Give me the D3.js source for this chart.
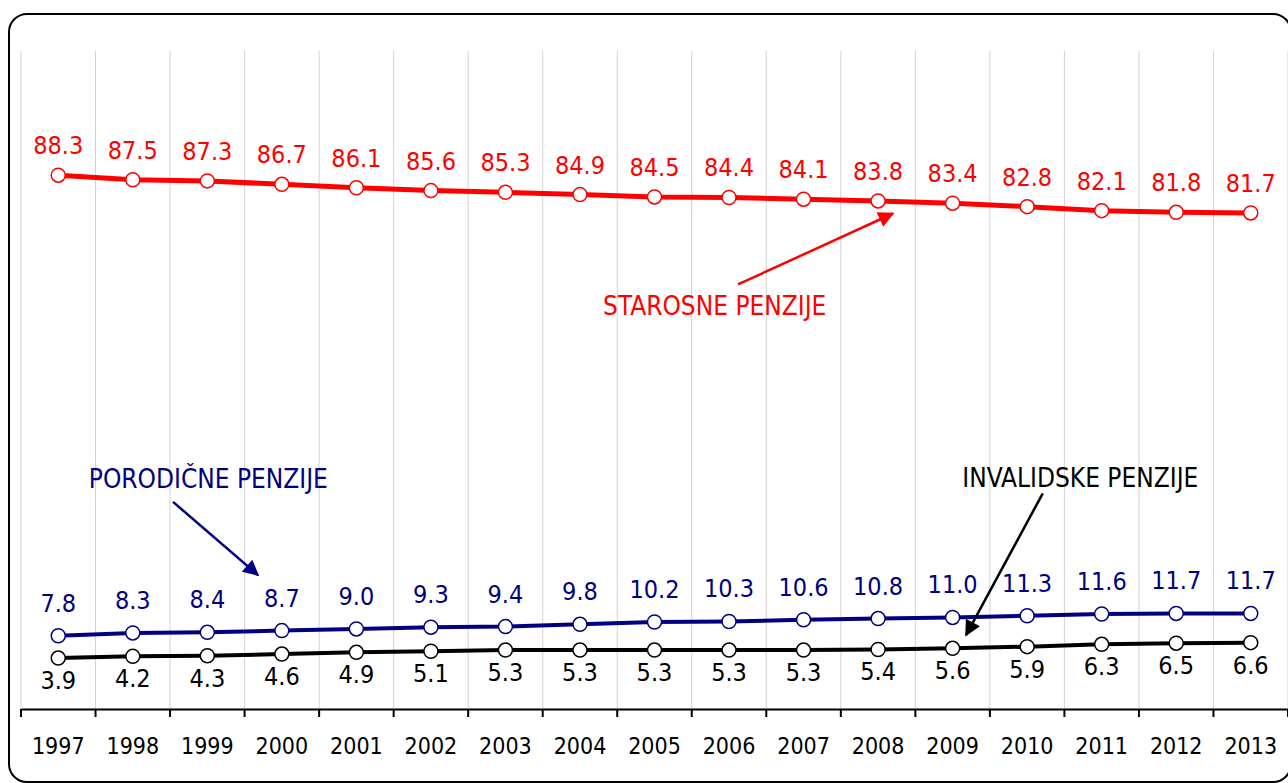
<!DOCTYPE html>
<html lang="hr">
<head>
    <meta charset="UTF-8">
    <title>Struktura penzija 1997-2013</title>
    <script src="https://d3js.org/d3.v7.min.js"></script>
    <style>
        body { margin: 0; background: #fff; }
        text { font-family: "DejaVu Sans Condensed", "DejaVu Sans", sans-serif; }
        .grid line { stroke: #d2d2d2; stroke-width: 1; }
    </style>
</head>
<body>
    <svg width="1288" height="783"></svg>

    <script>
        // Data (share of pensions, %)
        const years = ["1997", "1998", "1999", "2000", "2001", "2002", "2003", "2004", "2005",
            "2006", "2007", "2008", "2009", "2010", "2011", "2012", "2013"];
        const starosne = [88.3, 87.5, 87.3, 86.7, 86.1, 85.6, 85.3, 84.9, 84.5, 84.4, 84.1, 83.8, 83.4, 82.8, 82.1, 81.8, 81.7];
        const porodicne = [7.8, 8.3, 8.4, 8.7, 9.0, 9.3, 9.4, 9.8, 10.2, 10.3, 10.6, 10.8, 11.0, 11.3, 11.6, 11.7, 11.7];
        const invalidske = [3.9, 4.2, 4.3, 4.6, 4.9, 5.1, 5.3, 5.3, 5.3, 5.3, 5.3, 5.4, 5.6, 5.9, 6.3, 6.5, 6.6];

        const series = [
            { name: "STAROSNE PENZIJE", values: starosne, color: "#ff0000", width: 5, labelDy: -21 },
            { name: "PORODIČNE PENZIJE", values: porodicne, color: "#000080", width: 4, labelDy: -24 },
            { name: "INVALIDSKE PENZIJE", values: invalidske, color: "#000000", width: 4, labelDy: 31 }
        ];

        const svg = d3.select("svg");

        // outer rounded frame
        svg.append("rect")
            .attr("x", 9).attr("y", 14)
            .attr("width", 1282).attr("height", 768)
            .attr("rx", 18)
            .attr("fill", "#fff")
            .attr("stroke", "#000")
            .attr("stroke-width", 2);

        const plot = { left: 21, right: 1288, top: 51, bottom: 709 };

        const x = d3.scaleBand().domain(years).range([plot.left, plot.right]).padding(0);
        const y = d3.scaleLinear().domain([-5, 110]).range([plot.bottom, plot.top]);
        // fractional year index -> px, used for annotation placement
        const xi = d3.scaleLinear().domain([0, years.length - 1])
            .range([x(years[0]) + x.bandwidth() / 2, x(years[years.length - 1]) + x.bandwidth() / 2]);

        const edges = years.map(d => x(d)).concat([plot.right]);

        // vertical gridlines at category boundaries
        svg.append("g").attr("class", "grid")
            .selectAll("line").data(edges).join("line")
            .attr("x1", d => d).attr("x2", d => d)
            .attr("y1", plot.top).attr("y2", plot.bottom);

        // x axis
        const xAxis = svg.append("g")
            .attr("transform", `translate(0,${plot.bottom})`)
            .call(d3.axisBottom(x).tickSize(0).tickPadding(29));
        xAxis.select(".domain").attr("stroke", "#000").attr("stroke-width", 2);
        xAxis.selectAll(".tick text")
            .attr("fill", "#000")
            .style("font-size", "23px")
            .style("font-family", '"DejaVu Sans Condensed", "DejaVu Sans", sans-serif');
        svg.append("g").selectAll("line").data(edges).join("line")
            .attr("x1", d => d).attr("x2", d => d)
            .attr("y1", plot.bottom).attr("y2", plot.bottom + 8)
            .attr("stroke", "#000").attr("stroke-width", 2);

        const cx = (d, i) => x(years[i]) + x.bandwidth() / 2;
        const line = d3.line().x(cx).y(d => y(d));

        series.forEach(s => {
            const g = svg.append("g");
            g.append("path")
                .datum(s.values)
                .attr("fill", "none")
                .attr("stroke", s.color)
                .attr("stroke-width", s.width)
                .attr("d", line);
            g.selectAll("circle").data(s.values).join("circle")
                .attr("cx", cx)
                .attr("cy", d => y(d))
                .attr("r", 7)
                .attr("fill", "#fff")
                .attr("stroke", s.color)
                .attr("stroke-width", 1.5);
            g.selectAll("text").data(s.values).join("text")
                .attr("x", cx)
                .attr("y", d => y(d) + s.labelDy)
                .attr("text-anchor", "middle")
                .attr("fill", s.color)
                .style("font-size", "25px")
                .text(d => d.toFixed(1));
        });

        // arrowheads
        const defs = svg.append("defs");
        series.forEach((s, i) => {
            defs.append("marker")
                .attr("id", "arrow" + i)
                .attr("viewBox", "0 0 10 10")
                .attr("refX", 9).attr("refY", 5)
                .attr("markerUnits", "userSpaceOnUse")
                .attr("markerWidth", 18).attr("markerHeight", 16)
                .attr("orient", "auto")
                .append("path")
                .attr("d", "M0,0 L10,5 L0,10 Z")
                .attr("fill", s.color);
        });

        // annotation text + arrow, in data coordinates (year index, value)
        const notes = [
            { s: 0, text: [7.31, 63.9], from: [9.12, 69.2], to: [11.2, 81.6] },
            { s: 1, text: [0.41, 33.6], from: [1.54, 31.2], to: [2.68, 18.4] },
            { s: 2, text: [12.13, 33.8], from: [13.21, 32.7], to: [12.18, 7.9] }
        ];

        notes.forEach(n => {
            const s = series[n.s];
            svg.append("text")
                .attr("x", xi(n.text[0]))
                .attr("y", y(n.text[1]))
                .attr("fill", s.color)
                .style("font-size", "26px")
                .text(s.name);
            svg.append("line")
                .attr("x1", xi(n.from[0])).attr("y1", y(n.from[1]))
                .attr("x2", xi(n.to[0])).attr("y2", y(n.to[1]))
                .attr("stroke", s.color)
                .attr("stroke-width", 2.5)
                .attr("marker-end", `url(#arrow${n.s})`);
        });
    </script>
</body>
</html>
